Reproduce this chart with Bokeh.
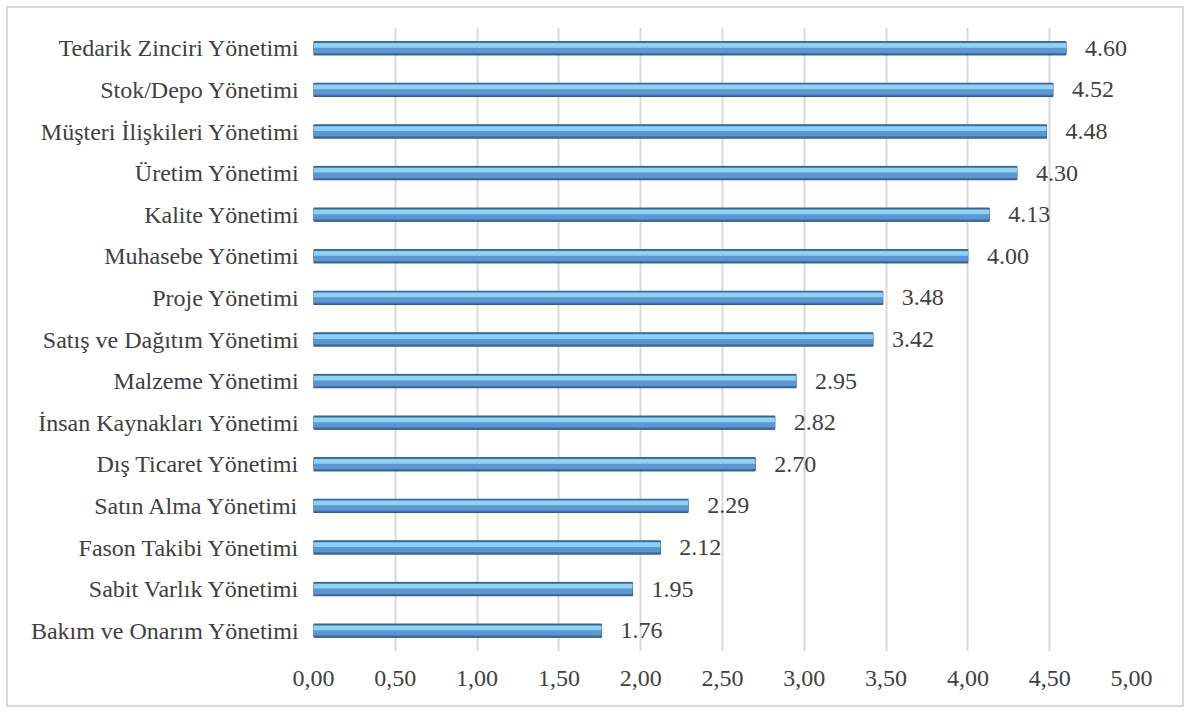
from bokeh.plotting import figure
from bokeh.models import ColumnDataSource, FactorRange, FixedTicker
from bokeh.core.properties import value
from bokeh.transform import dodge
from bokeh.embed import file_html
from bokeh.resources import INLINE

modules = [
    "Tedarik Zinciri Yönetimi",
    "Stok/Depo Yönetimi",
    "Müşteri İlişkileri Yönetimi",
    "Üretim Yönetimi",
    "Kalite Yönetimi",
    "Muhasebe Yönetimi",
    "Proje Yönetimi",
    "Satış ve Dağıtım Yönetimi",
    "Malzeme Yönetimi",
    "İnsan Kaynakları Yönetimi",
    "Dış Ticaret Yönetimi",
    "Satın Alma Yönetimi",
    "Fason Takibi Yönetimi",
    "Sabit Varlık Yönetimi",
    "Bakım ve Onarım Yönetimi",
]
scores = [4.60, 4.52, 4.48, 4.30, 4.13, 4.00, 3.48, 3.42, 2.95, 2.82, 2.70, 2.29, 2.12, 1.95, 1.76]
x_ticks = [0.0, 0.5, 1.0, 1.5, 2.0, 2.5, 3.0, 3.5, 4.0, 4.5, 5.0]
x_tick_labels = ["0,00", "0,50", "1,00", "1,50", "2,00", "2,50", "3,00", "3,50", "4,00", "4,50", "5,00"]

FONT = "Liberation Serif"
TEXT = "#404040"
SIZE = "24px"

source = ColumnDataSource(dict(
    module=modules,
    score=scores,
    label=[f"{v:.2f}" for v in scores],
))

p = figure(
    width=1190, height=713,
    y_range=FactorRange(factors=list(reversed(modules))),
    x_range=(0, 5),
    output_backend="svg", toolbar_location=None,
    min_border_left=313, min_border_right=59,
    min_border_top=27, min_border_bottom=62,
)
p.outline_line_color = None
p.background_fill_color = "white"
p.border_fill_color = None
# white page with a thin grey frame inset around the chart
p.styles = {
    "background-color": "white",
    "box-shadow": "inset 0 0 0 6px white, inset 0 0 0 8px #d9d9d9",
}

# bevelled bar: dark base, mid body, light top highlight
bh = 0.32
p.hbar(y="module", right="score", left=0, height=bh, source=source,
       fill_color="#3f6fa3", line_color="#2d5a88", line_width=1)
p.hbar(y="module", right="score", left=0, height=bh * 0.72, source=source,
       fill_color="#5b97d2", line_color=None)
p.hbar(y=dodge("module", bh * 0.22, range=p.y_range), right="score", left=0,
       height=bh * 0.36, source=source, fill_color="#8ed0f6", line_color=None)

p.text(x="score", y="module", text="label", source=source,
       x_offset=19, text_baseline="middle", text_align="left",
       text_font=value(FONT), text_font_size=SIZE, text_color=TEXT)

# axes
p.xaxis.ticker = FixedTicker(ticks=x_ticks)
p.xaxis.major_label_overrides = {t: l for t, l in zip(x_ticks, x_tick_labels)}
p.xaxis.axis_line_color = None
p.xaxis.major_tick_line_color = None
p.xaxis.minor_tick_line_color = None
p.xaxis.major_label_standoff = 13
p.xaxis.major_label_text_font = FONT
p.xaxis.major_label_text_font_size = SIZE
p.xaxis.major_label_text_color = TEXT

p.yaxis.axis_line_color = None
p.yaxis.major_tick_line_color = None
p.yaxis.major_label_standoff = 8
p.yaxis.major_label_text_font = FONT
p.yaxis.major_label_text_font_size = SIZE
p.yaxis.major_label_text_color = TEXT

p.xgrid.ticker = FixedTicker(ticks=x_ticks)
p.xgrid.grid_line_color = "#d9d9d9"
p.xgrid.grid_line_width = 2
p.ygrid.grid_line_color = None

open("out.html", "w").write(file_html(p, INLINE))
